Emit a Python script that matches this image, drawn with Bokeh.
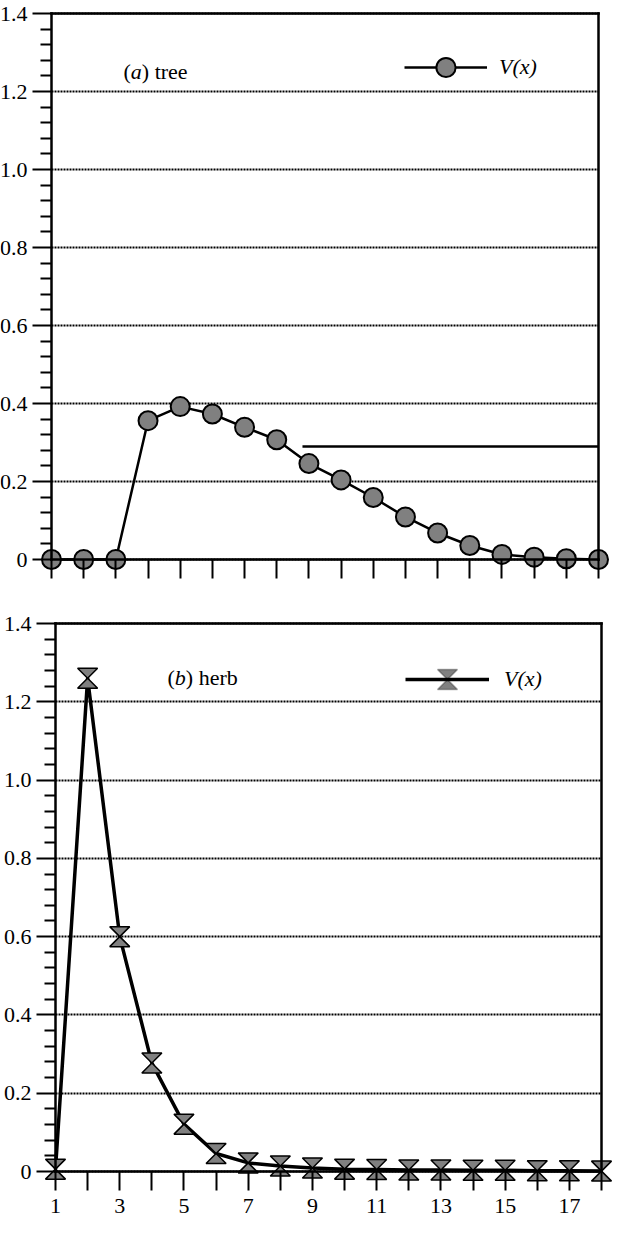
from bokeh.plotting import figure
from bokeh.models import (Range1d, FixedTicker, CustomJSTickFormatter, LinearAxis,
                          Legend, LegendItem, Label, PolyAnnotation)
from bokeh.layouts import column
from bokeh.embed import file_html
from bokeh.resources import INLINE

# ---------------- data ----------------
x_values = list(range(1, 19))
tree_v = [0.0, 0.0, 0.0, 0.356, 0.392, 0.373, 0.339, 0.307, 0.246, 0.204,
          0.159, 0.109, 0.068, 0.036, 0.013, 0.006, 0.002, 0.0]
herb_v = [0.006, 1.26, 0.60, 0.277, 0.121, 0.046, 0.022, 0.014, 0.009, 0.006,
          0.005, 0.004, 0.004, 0.003, 0.003, 0.002, 0.002, 0.001]
tree_hline_x = [8.8, 18]
tree_hline_y = [0.29, 0.29]
y_ticks = [0, 0.2, 0.4, 0.6, 0.8, 1.0, 1.2, 1.4]
x_ticks = list(range(1, 19))
panel_a = ("(", "a", ") tree")
panel_b = ("(", "b", ") herb")
series_label = "V(x)"

# ---------------- style ----------------
FONT = "'Liberation Serif', 'Times New Roman', serif"
FS = "22px"
GRAY = "#808080"
X_FIRST, X_LAST = x_ticks[0], x_ticks[-1]
Y_MIN, Y_MAX = y_ticks[0], y_ticks[-1]
y_minor = [round(i * 0.04, 2) for i in range(1, 35) if i % 5 != 0]


def make_fig(W, H, x1px, xlpx, ytop_px, y0px, xlabels):
    sx = (xlpx - x1px) / (X_LAST - X_FIRST)
    sy = (y0px - ytop_px) / (Y_MAX - Y_MIN)
    xr = Range1d(X_FIRST - x1px / sx, X_LAST + (W - xlpx) / sx)
    yr = Range1d(Y_MIN - (H - y0px) / sy, Y_MAX + ytop_px / sy)
    p = figure(frame_width=W, frame_height=H, x_range=xr, y_range=yr,
               output_backend="svg", toolbar_location=None, min_border=0)
    p.outline_line_color = None
    p.background_fill_color = "white"
    p.border_fill_color = "white"

    yax = p.yaxis[0]
    yax.fixed_location = X_FIRST
    yax.bounds = (Y_MIN, Y_MAX)
    yax.ticker = FixedTicker(ticks=y_ticks, minor_ticks=y_minor)
    yax.formatter = CustomJSTickFormatter(code="return tick == 0 ? '0' : tick.toFixed(1);")
    yax.major_tick_out = 19
    yax.major_tick_in = 0
    yax.minor_tick_out = 11
    yax.minor_tick_in = 0
    yax.major_label_standoff = 5

    xax = p.xaxis[0]
    xax.fixed_location = Y_MIN
    xax.bounds = (X_FIRST, X_LAST)
    xax.ticker = FixedTicker(ticks=x_ticks, minor_ticks=[])
    if xlabels:
        xax.formatter = CustomJSTickFormatter(
            code="var t = Math.round(tick); return (t % 2 == 1) ? String(t) : '';")
    else:
        xax.formatter = CustomJSTickFormatter(code="return '';")
    xax.major_tick_out = 19
    xax.major_tick_in = 0
    xax.minor_tick_out = 0
    xax.minor_tick_in = 0
    xax.major_label_standoff = 8

    for ax in (xax, yax):
        ax.axis_line_width = 2.5
        ax.axis_line_color = "black"
        ax.axis_line_cap = "square"
        ax.major_tick_line_width = 2
        ax.minor_tick_line_width = 2
        ax.major_tick_line_color = "black"
        ax.minor_tick_line_color = "black"
        ax.major_label_text_font = FONT
        ax.major_label_text_font_size = FS
        ax.major_label_text_color = "black"

    # top and right border lines
    top_ax = LinearAxis(fixed_location=Y_MAX, bounds=(X_FIRST, X_LAST),
                        ticker=FixedTicker(ticks=[], minor_ticks=[]),
                        major_tick_out=0, major_tick_in=0, minor_tick_out=0, minor_tick_in=0,
                        major_label_text_font_size="0px",
                        axis_line_width=2.5, axis_line_cap="square")
    right_ax = LinearAxis(fixed_location=X_LAST, bounds=(Y_MIN, Y_MAX),
                          ticker=FixedTicker(ticks=[], minor_ticks=[]),
                          major_tick_out=0, major_tick_in=0, minor_tick_out=0, minor_tick_in=0,
                          major_label_text_font_size="0px",
                          axis_line_width=2.5, axis_line_cap="square")
    p.add_layout(top_ax, "above")
    p.add_layout(right_ax, "right")

    p.xgrid.visible = False
    g = p.ygrid[0]
    g.ticker = FixedTicker(ticks=y_ticks)
    g.grid_line_color = "black"
    g.grid_line_width = 2
    g.grid_line_dash = "2 1"
    try:
        g.cross_bounds = (X_FIRST, X_LAST)
    except Exception:
        g.visible = False
        inner = [t for t in y_ticks if Y_MIN < t < Y_MAX]
        p.segment(x0=[X_FIRST] * len(inner), x1=[X_LAST] * len(inner), y0=inner, y1=inner,
                  line_color="black", line_width=2, line_dash="2 1", level="underlay")
    return p, sx, sy


def add_panel_label(p, parts, x, y):
    w_paren = 0.333 * 22
    w_letter = 0.5 * 22
    p.add_layout(Label(x=x, y=y, x_units="screen", y_units="screen", text=parts[0],
                       text_font=FONT, text_font_size=FS, text_color="black",
                       text_baseline="alphabetic"))
    p.add_layout(Label(x=x + w_paren, y=y, x_units="screen", y_units="screen", text=parts[1],
                       text_font=FONT, text_font_size=FS, text_font_style="italic",
                       text_color="black", text_baseline="alphabetic"))
    p.add_layout(Label(x=x + w_paren + w_letter, y=y, x_units="screen", y_units="screen",
                       text=parts[2], text_font=FONT, text_font_size=FS, text_color="black",
                       text_baseline="alphabetic"))


# ---------------- top panel (a) tree ----------------
W1, H1 = 611, 581
p1, sx1, sy1 = make_fig(W1, H1, 51, 598, 13, 559, False)
p1.line(tree_hline_x, tree_hline_y, line_color="black", line_width=2.5)
r_line1 = p1.line(x_values, tree_v, line_color="black", line_width=2.5, line_join="round")
r_mark1 = p1.scatter(x_values, tree_v, marker="circle", size=19, fill_color=GRAY,
                     line_color="black", line_width=2)
add_panel_label(p1, panel_a, 123, 510)
leg1 = Legend(items=[LegendItem(label=series_label, renderers=[r_line1, r_mark1])],
              location=(404, 490), glyph_width=83, glyph_height=48, label_standoff=12,
              padding=0, margin=0, spacing=0, border_line_color=None,
              background_fill_alpha=0, label_text_font=FONT, label_text_font_size=FS,
              label_text_font_style="italic", label_text_color="black")
p1.add_layout(leg1)

# ---------------- bottom panel (b) herb ----------------
W2, H2 = 613, 639
p2, sx2, sy2 = make_fig(W2, H2, 55, 601, 42, 590, True)
HW, HH = 10, 10  # hourglass half width / half height in px
hw, hh = HW / sx2, HH / sy2
hg_xs = [[x - hw, x + hw, x, x + hw, x - hw, x] for x in x_values]
hg_ys = [[v + hh, v + hh, v, v - hh, v - hh, v] for v in herb_v]
r_line2 = p2.line(x_values, herb_v, line_color="black", line_width=3.5, line_join="round")
p2.patches(hg_xs, hg_ys, fill_color=GRAY, line_color="black", line_width=1.5)
add_panel_label(p2, panel_b, 167, 543)
leg2 = Legend(items=[LegendItem(label=series_label, renderers=[r_line2])],
              location=(405, 517), glyph_width=84, glyph_height=48, label_standoff=15,
              padding=0, margin=0, spacing=0, border_line_color=None,
              background_fill_alpha=0, label_text_font=FONT, label_text_font_size=FS,
              label_text_font_style="italic", label_text_color="black")
p2.add_layout(leg2)
cx, cy = 447, 541
p2.add_layout(PolyAnnotation(xs=[cx - HW, cx + HW, cx, cx + HW, cx - HW, cx],
                             ys=[cy + HH, cy + HH, cy, cy - HH, cy - HH, cy],
                             xs_units="screen", ys_units="screen",
                             fill_color=GRAY, fill_alpha=1.0,
                             line_color="black", line_width=1.5))

layout = column(p1, p2, spacing=0)
open("out.html", "w").write(file_html(layout, INLINE))
